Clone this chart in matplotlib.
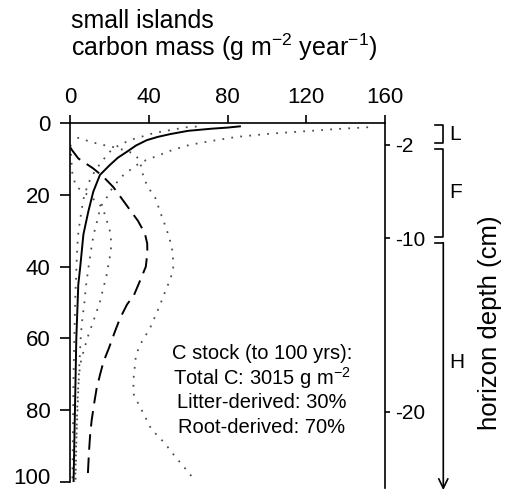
import matplotlib
matplotlib.use("Agg")
import matplotlib.pyplot as plt
import matplotlib.transforms as mtransforms

plt.rcParams.update({
    "font.family": ["Liberation Sans", "DejaVu Sans"],
    "mathtext.default": "regular",
    "axes.linewidth": 1.2,
    "figure.facecolor": "white",
    "axes.facecolor": "white",
})

# ─── DATA: carbon mass (g m-2 yr-1) against soil depth ─────────────────────

# litter-derived carbon (solid) and its bounds (dotted)
litter_depth = [0.85, 1.2, 1.5, 2.1, 3.0, 3.8, 4.7, 6.2, 7.9, 9.6, 11.6, 14.4, 19.1, 24.6,
                31, 40, 45, 60, 80, 100]
litter_mass = [86.3, 80, 72, 60, 51, 44.5, 39, 33.5, 29, 24.3, 20.3, 15.2, 11.8, 9.3,
               6.8, 5.2, 4.2, 3.2, 2.5, 1.8]

litter_hi_depth = [1.1, 1.6, 2.25, 2.9, 3.8, 5.0, 6.0, 7.4, 8.8, 10.3, 11.5, 12.9, 14.5,
                   16.2, 18.5, 20.5, 23.2, 27, 31, 35, 40.5, 45, 50, 54.4, 59, 70, 80, 90, 100]
litter_hi = [151.4, 135.4, 118.4, 101.5, 84.6, 71.1, 60.9, 52.2, 45.7, 38.5, 34.3, 30.8, 27,
             24.2, 21, 18.9, 15.6, 13.9, 12, 10.8, 9.3, 8.2, 7.3, 6.3, 5.5, 4.5, 3.8, 3.1, 2.6]

litter_lo_depth = [0.9, 1.1, 1.8, 2.7, 4.5, 6, 7.9, 11, 15, 17.6, 20.2, 23.2, 27, 30.7,
                   34.4, 38, 50, 70, 100]
litter_lo = [64.3, 59.2, 51.9, 42.8, 31.6, 25, 20.3, 15.6, 10.7, 8.8, 7.2, 6.2, 5.1, 4.2,
             3.7, 3.4, 2.6, 1.8, 1.2]

# root-derived carbon (dashed) and its bounds (dotted)
root_depth = [6.8, 7.4, 9.8, 12.6, 14.9, 17.8, 20.8, 24.2, 27.2, 30.7, 33.5, 36, 40, 44,
              47.9, 50.5, 54.4, 58.1, 62.5, 66.5, 70, 74, 78, 82.8, 87, 92, 98.6]
root_mass = [0.3, 0.9, 4.2, 11.8, 16.9, 22, 26, 30.5, 34.5, 38, 39.2, 39.3, 38.5, 35.5,
             32.5, 29, 25.4, 22.8, 19.9, 17, 15.3, 13.5, 12.3, 11, 10.2, 9.6, 9]

root_hi_depth = [4.0, 4.9, 5.8, 6.5, 7.4, 8.5, 10.5, 13, 15.5, 18.5, 21, 24.6, 28, 32, 36,
                 40.4, 43.5, 46, 50.7, 57.2, 61, 64.5, 67.4, 71, 75.3, 77, 79, 81.8, 84.6,
                 86.9, 88.8, 91.1, 92.9, 96.2, 98.5]
root_hi = [3.7, 9, 14.7, 21, 27, 32.7, 35.5, 36.5, 37.5, 40.5, 43.5, 45.7, 48, 50.5, 52.2,
           52.4, 51, 49, 45.7, 40.6, 36.4, 33.5, 33, 32.3, 32.1, 33.5, 35.5, 38.1, 40.6,
           44, 47.4, 50.8, 53.3, 58.4, 61.8]

root_lo_depth = [6, 10, 14, 17.6, 19.2, 21.5, 23.5, 27, 30.5, 34, 37, 42.3, 49.8, 55.3,
                 59.1, 63.7, 67.4, 73, 80, 90, 100]
root_lo = [0.3, 0.6, 1.2, 3, 7, 12.7, 16.5, 18.6, 20.5, 21, 20.3, 18.6, 15.2, 11.8,
           9.3, 6.8, 5.1, 4.2, 3.6, 3.2, 2.8]

# soil horizons (plot depth of top/bottom) and horizon-depth ticks
horizons = ["L", "F", "H"]
horizon_top = [0.5, 7.25, 33.3]
horizon_bottom = [5.6, 31.6, 102.3]
horizon_tick_depth = [6.05, 32.1, 80.4]
horizon_tick_labels = ["-2", "-10", "-20"]

x_ticks = [0, 40, 80, 120, 160]
y_ticks = [0, 20, 40, 60, 80, 100]

stock_lines = [
    "C stock (to 100 yrs):",
    "Total C: 3015 g m$^{-2}$",
    "Litter-derived: 30%",
    "Root-derived: 70%",
]

# ─── FIGURE ─────────────────────────────────────────────────────────────────

fig = plt.figure(figsize=(5.07, 4.92), dpi=100)
ax = fig.add_axes([0.1381, 0.0207, 0.6213, 0.7287])

dot_style = dict(color="0.3", linewidth=1.3, linestyle=(0, (1, 4)))
ax.plot(litter_hi, litter_hi_depth, **dot_style)
ax.plot(litter_lo, litter_lo_depth, **dot_style)
ax.plot(root_hi, root_hi_depth, **dot_style)
ax.plot(root_lo, root_lo_depth, **dot_style)
ax.plot(litter_mass, litter_depth, color="black", linewidth=1.4)
ax.plot(root_mass, root_depth, color="black", linewidth=1.4, linestyle=(0, (8, 4)))

ax.set_xlim(0, 160)
ax.set_ylim(100, 0)
ax.xaxis.tick_top()
ax.set_xticks(x_ticks)
ax.set_yticks(y_ticks)
ax.tick_params(axis="x", direction="out", length=6, width=1.2, pad=5, labelsize=16)
ax.tick_params(axis="y", direction="out", length=7, width=1.2, pad=7, labelsize=16)
ax.spines["bottom"].set_visible(False)
ax.spines["right"].set_visible(False)

# lift the bottom depth label a little so it stays inside the figure
last = ax.get_yticklabels()[-1]
last.set_transform(last.get_transform()
                   + mtransforms.ScaledTranslation(0, 4 / 72, fig.dpi_scale_trans))

# horizon depth axis on the right
twin = ax.twinx()
twin.set_ylim(100, 0)
twin.set_yticks(horizon_tick_depth)
twin.set_yticklabels(horizon_tick_labels)
twin.tick_params(axis="y", direction="out", length=3.6, width=1.2, pad=4, labelsize=15)
for side in ["top", "left", "bottom"]:
    twin.spines[side].set_visible(False)
twin.spines["right"].set_bounds(0, 101.7)

# horizon brackets
trans = mtransforms.blended_transform_factory(ax.transAxes, ax.transData)
x_line, x_cap = 1.185, 1.159
for name, top, bottom in zip(horizons, horizon_top, horizon_bottom):
    if bottom > 100:
        ax.plot([x_cap, x_line], [top, top], color="black", lw=1.2,
                transform=trans, clip_on=False)
        ax.annotate("", xy=(x_line, bottom), xytext=(x_line, top),
                    xycoords=trans, textcoords=trans, annotation_clip=False,
                    arrowprops=dict(arrowstyle="->,head_length=0.45,head_width=0.22",
                                    lw=1.2, color="black", shrinkA=0, shrinkB=0,
                                    mutation_scale=15))
    else:
        ax.plot([x_cap, x_line, x_line, x_cap], [top, top, bottom, bottom],
                color="black", lw=1.2, transform=trans, clip_on=False)
    ax.text(x_line + 0.02, (top + min(bottom, 100)) / 2, name, transform=trans,
            ha="left", va="center", fontsize=15)

fig.text(0.966, 0.345, "horizon depth (cm)", rotation=90, ha="center", va="center",
         fontsize=18.5)

# carbon stock summary
for i, line in enumerate(stock_lines):
    ax.text(97.5, 64.2 + i * 6.9, line, ha="center", va="center", fontsize=14.5)

fig.text(0.141, 0.886, "small islands\ncarbon mass (g m$^{-2}$ year$^{-1}$)",
         ha="left", va="baseline", fontsize=18, linespacing=0.95)

fig.savefig("out.png", dpi=100)
